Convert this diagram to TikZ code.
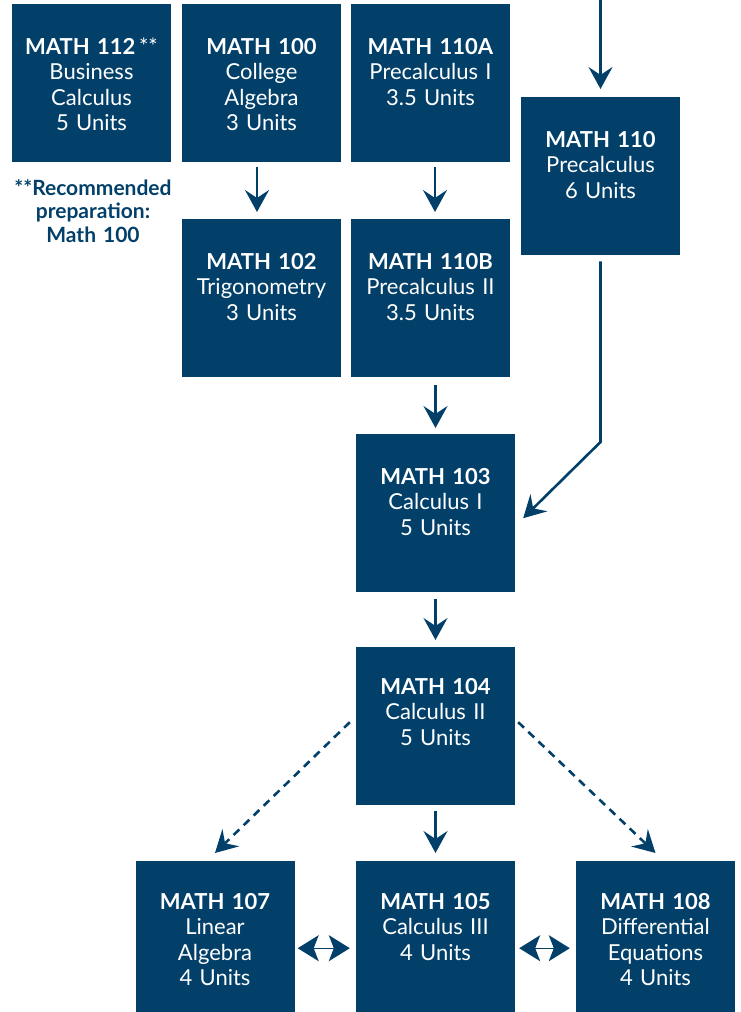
\documentclass[tikz,border=0pt]{standalone}
\usepackage{fontspec}
\setmainfont{Lato}
\usetikzlibrary{arrows.meta,positioning}
\definecolor{mathblue}{RGB}{2,64,106}

\begin{document}
\begin{tikzpicture}[x=1pt, y=-1pt,
  course/.style={fill=mathblue, text=white, inner sep=0pt, anchor=north, text width=159pt, align=center, text height=50pt, text depth=108pt, font=\fontsize{22}{25.5}\selectfont},
  prereq/.style={draw=mathblue, line width=2.6pt, -{Stealth[length=22pt, width=24pt, inset=8pt]}},
  optional/.style={prereq, dash pattern=on 8pt off 6pt},
  either/.style={draw=mathblue, line width=1.3pt, {Stealth[length=21pt, width=26pt, inset=5pt]}-{Stealth[length=21pt, width=26pt, inset=5pt]}}]
\useasboundingbox (0,0) rectangle (740,1012);
\clip (0,0) rectangle (740,1012);

% Courses

\node [course] (m112) at (91.5,4) {\textbf{MATH 112}\,**\\Business\\Calculus\\5 Units};
\node [course] (m100) at (261.5,4) {\textbf{MATH 100}\\College\\Algebra\\3 Units};
\node [course] (m110a) at (430.5,4) {\textbf{MATH 110A}\\Precalculus I\\3.5 Units};
\node [course] (m110) at (600.5,97) {\textbf{MATH 110}\\Precalculus\\6 Units};
\node [course] (m102) at (261.5,219) {\textbf{MATH 102}\\Trigonometry\\3 Units};
\node [course] (m110b) at (430.5,219) {\textbf{MATH 110B}\\Precalculus II\\3.5 Units};
\node [course] (m103) at (435.5,434) {\textbf{MATH 103}\\Calculus I\\5 Units};
\node [course, text height=47pt, text depth=111pt] (m104) at (435.5,647) {\textbf{MATH 104}\\Calculus II\\5 Units};
\node [course, text height=48pt, text depth=110pt] (m107) at (215,861) {\textbf{MATH 107}\\Linear\\Algebra\\4 Units};
\node [course, text height=48pt, text depth=110pt] (m105) at (435.5,861) {\textbf{MATH 105}\\Calculus III\\4 Units};
\node [course, text height=48pt, text depth=110pt] (m108) at (655.5,861) {\textbf{MATH 108}\\Differential\\Equations\\4 Units};

\node [anchor=base, text width=180pt, align=center, text=mathblue, font=\fontsize{21}{23.5}\selectfont\bfseries] (note) at (93,195) {**Recommended\\preparation:\\Math 100};

% Prerequisites

\coordinate (entry) at (600.5,-5);
\coordinate (bend) at (600.5,442);
\draw[prereq, shorten >=8pt] (entry) -- (m110.north);
\draw[prereq, shorten <=5pt, shorten >=7pt] ([xshift=-4.5pt]m100.south) -- ([xshift=-4.5pt]m102.north);
\draw[prereq, shorten <=5pt, shorten >=7pt] ([xshift=4.5pt]m110a.south) -- ([xshift=4.5pt]m110b.north);
\draw[prereq, shorten <=8pt, shorten >=6pt] (m110b.south -| m103.north) -- (m103.north);
\draw[prereq, shorten <=6pt] (m110.south) -- (bend) -- ([xshift=8pt,yshift=-5pt]m103.east);
\draw[prereq, shorten <=7pt, shorten >=7pt] (m103.south) -- (m104.north);
\draw[prereq, shorten <=6pt, shorten >=8pt] (m104.south) -- (m105.north);
\draw[optional] ([xshift=-6pt,yshift=4pt]m104.west) -- ([yshift=8pt]m107.north);
\draw[optional] ([xshift=3pt,yshift=4pt]m104.east) -- ([yshift=8pt]m108.north);
\draw[either] ([xshift=3pt,yshift=-8pt]m107.east) -- ([xshift=-6pt,yshift=-8pt]m105.west);
\draw[either] ([xshift=4pt,yshift=-8pt]m105.east) -- ([xshift=-6pt,yshift=-8pt]m108.west);
\end{tikzpicture}
\end{document}
